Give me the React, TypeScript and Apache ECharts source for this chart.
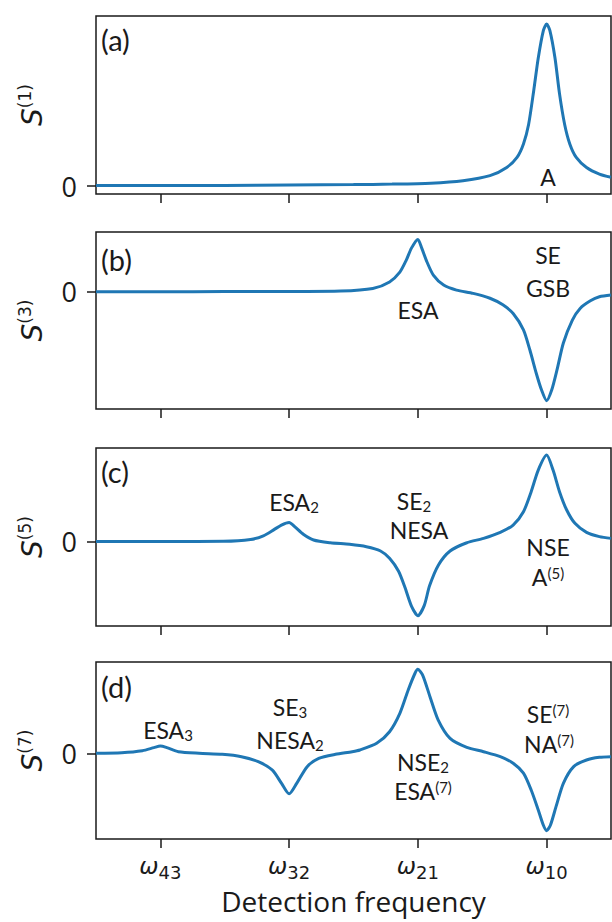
import React, { useEffect, useRef } from 'react';
import * as echarts from 'echarts';

// x positions: ω43 = 1, ω32 = 2, ω21 = 3, ω10 = 4
const tickValues = [1, 2, 3, 4];
const tickSubs = ['43', '32', '21', '10'];
const xMin = 0.5;
const xMax = 4.5;

// (a) S(1)
const xA = [0.5, 1.0, 1.5, 2.0, 2.5, 2.8, 3.1, 3.35, 3.56, 3.69, 3.77, 3.82, 3.86, 3.9, 3.935, 3.975, 4.0, 4.025, 4.065, 4.1, 4.14, 4.18, 4.23, 4.31, 4.41, 4.5];
const yA = [0.003, 0.003, 0.004, 0.006, 0.009, 0.012, 0.018, 0.033, 0.064, 0.115, 0.177, 0.26, 0.38, 0.59, 0.79, 0.96, 1.0, 0.96, 0.79, 0.57, 0.38, 0.26, 0.177, 0.115, 0.074, 0.054];

// (b) S(3)
const xB = [0.5, 1.0, 1.5, 2.0, 2.4, 2.65, 2.78, 2.86, 2.91, 2.95, 3.0, 3.03, 3.07, 3.12, 3.2, 3.3, 3.43, 3.56, 3.66, 3.74, 3.82, 3.87, 3.92, 3.96, 4.0, 4.04, 4.08, 4.13, 4.2, 4.26, 4.34, 4.41, 4.5];
const yB = [0.0, 0.0, 0.001, 0.002, 0.006, 0.03, 0.09, 0.18, 0.29, 0.4, 0.48, 0.4, 0.275, 0.153, 0.061, 0.015, -0.015, -0.06, -0.12, -0.2, -0.35, -0.535, -0.75, -0.9, -1.0, -0.9, -0.72, -0.47, -0.26, -0.153, -0.083, -0.046, -0.03];

// (c) S(5)
const xC = [0.5, 0.9, 1.23, 1.49, 1.7, 1.8, 1.88, 1.94, 2.0, 2.045, 2.11, 2.19, 2.32, 2.47, 2.6, 2.71, 2.78, 2.85, 2.9, 2.95, 3.0, 3.05, 3.09, 3.16, 3.25, 3.38, 3.51, 3.64, 3.74, 3.82, 3.88, 3.935, 4.0, 4.05, 4.1, 4.156, 4.22, 4.31, 4.41, 4.5];
const yC = [0.002, 0.002, 0.003, 0.005, 0.03, 0.08, 0.16, 0.225, 0.26, 0.2, 0.1, 0.023, -0.014, -0.036, -0.068, -0.126, -0.225, -0.4, -0.62, -0.87, -1.0, -0.86, -0.6, -0.315, -0.126, -0.014, 0.045, 0.126, 0.225, 0.405, 0.676, 0.968, 1.17, 0.968, 0.676, 0.428, 0.248, 0.126, 0.068, 0.045];

// (d) S(7)
const xD = [0.5, 0.7, 0.86, 0.95, 1.0, 1.05, 1.14, 1.3, 1.48, 1.63, 1.76, 1.87, 1.94, 2.0, 2.06, 2.14, 2.23, 2.36, 2.49, 2.55, 2.68, 2.78, 2.86, 2.925, 2.977, 3.0, 3.037, 3.094, 3.158, 3.25, 3.38, 3.51, 3.64, 3.74, 3.82, 3.88, 3.935, 3.974, 4.0, 4.03, 4.073, 4.13, 4.21, 4.31, 4.41, 4.5];
const yD = [0.009, 0.017, 0.043, 0.083, 0.104, 0.083, 0.03, 0.009, -0.004, -0.035, -0.1, -0.21, -0.38, -0.52, -0.38, -0.165, -0.057, -0.004, 0.03, 0.052, 0.139, 0.29, 0.53, 0.835, 1.05, 1.104, 1.03, 0.748, 0.443, 0.204, 0.087, 0.03, -0.035, -0.12, -0.25, -0.47, -0.73, -0.926, -1.0, -0.926, -0.687, -0.383, -0.165, -0.078, -0.043, -0.035];

const seriesX = [xA, xB, xC, xD];
const seriesY = [yA, yB, yC, yD];
const orders = ['1', '3', '5', '7'];
const panelLetters = ['(a)', '(b)', '(c)', '(d)'];
const yMins = [-0.049, -1.076, -1.139, -1.109];
const yMaxs = [1.049, 0.548, 1.266, 1.2];
const xTitle = 'Detection frequency';

// annotation texts (rich-text markup), per panel
const annotations = [
  ['{m|A}'],
  ['{m|ESA}', '{m|SE}', '{m|GSB}'],
  ['{m|ESA}{b|2}', '{m|SE}{b|2}', '{m|NESA}', '{m|NSE}', '{m|A}{p|(5)}'],
  ['{m|ESA}{b|3}', '{m|SE}{b|3}', '{m|NESA}{b|2}', '{m|NSE}{b|2}', '{m|ESA}{p|(7)}', '{m|SE}{p|(7)}', '{m|NA}{p|(7)}'],
];

// layout (pixels)
const gridLeft = 96;
const gridRight = 1;
const gridTops = [16, 232, 448, 662];
const gridHeights = [178, 177, 178, 177];
const annotationPos = [
  [[548, 177]],
  [[418, 310], [548, 255], [548, 288]],
  [[294, 502], [414, 501], [419, 530], [548, 547], [548, 577]],
  [[168, 730], [290, 707], [290, 740], [423, 762], [423, 791], [548, 714], [549, 744]],
];
const letterY = [39, 259, 471, 686];

const LINE = '#1f77b4';
const INK = '#1a1a1a';

export default function App() {
  const ref = useRef<HTMLDivElement>(null);
  useEffect(() => {
    if (!ref.current) return;
    const chart = echarts.init(ref.current, undefined, { renderer: 'svg' });

    const grids = gridTops.map((t, i) => ({
      left: gridLeft,
      right: gridRight,
      top: t,
      height: gridHeights[i],
      show: true,
      borderColor: INK,
      borderWidth: 1.5,
      backgroundColor: 'transparent',
    }));

    const xAxes = gridTops.map((_, i) => ({
      type: 'value',
      gridIndex: i,
      min: xMin,
      max: xMax,
      axisLine: { show: false, onZero: false },
      splitLine: { show: false },
      axisTick: { show: true, inside: false, length: 9, customValues: tickValues, lineStyle: { color: INK, width: 1.5 } },
      axisLabel: {
        show: i === 3,
        customValues: tickValues,
        margin: 12,
        formatter: (v: number) => {
          const k = tickValues.indexOf(Math.round(v));
          return k >= 0 ? `{w|ω}{s|${tickSubs[k]}}` : '';
        },
        rich: {
          w: { fontFamily: 'DejaVu Sans', fontStyle: 'italic', fontSize: 23, lineHeight: 30, color: INK },
          s: { fontFamily: 'DejaVu Sans', fontSize: 18, lineHeight: 18, verticalAlign: 'bottom', color: INK },
        },
      },
      name: i === 3 ? xTitle : '',
      nameLocation: 'middle',
      nameGap: 48,
      nameTextStyle: { fontFamily: 'Open Sans', fontSize: 28, lineHeight: 28, color: INK },
    }));

    const yAxes = gridTops.map((_, i) => ({
      type: 'value',
      gridIndex: i,
      min: yMins[i],
      max: yMaxs[i],
      axisLine: { show: false, onZero: false },
      splitLine: { show: false },
      axisTick: { show: true, inside: false, length: 9, customValues: [0], lineStyle: { color: INK, width: 1.5 } },
      axisLabel: {
        customValues: [0],
        margin: 19,
        fontFamily: 'Open Sans',
        fontSize: 27,
        color: INK,
        formatter: (v: number) => (Math.abs(v) < 1e-9 ? '0' : ''),
      },
      name: `{s|S}{p|(${orders[i]})}`,
      nameLocation: 'middle',
      nameGap: 48,
      nameRotate: 90,
      nameTextStyle: {
        rich: {
          s: { fontFamily: 'DejaVu Sans', fontStyle: 'italic', fontSize: 28, lineHeight: 32, color: INK },
          p: { fontFamily: 'DejaVu Sans', fontSize: 17, lineHeight: 20, verticalAlign: 'top', color: INK },
        },
      },
    }));

    const series = seriesX.map((xs, i) => ({
      type: 'line',
      xAxisIndex: i,
      yAxisIndex: i,
      data: xs.map((x, j) => [x, seriesY[i][j]]),
      showSymbol: false,
      smooth: 0.25,
      lineStyle: { color: LINE, width: 3 },
      silent: true,
    }));

    const annRich = {
      m: { fontFamily: 'Lato', fontSize: 23, lineHeight: 24, fill: INK },
      b: { fontFamily: 'Lato', fontSize: 15, lineHeight: 10, verticalAlign: 'bottom', fill: INK },
      p: { fontFamily: 'Lato', fontSize: 15, lineHeight: 18, verticalAlign: 'top', fill: INK },
    };

    const graphics: any[] = [];
    annotations.forEach((list, i) => {
      list.forEach((txt, j) => {
        const [x, y] = annotationPos[i][j];
        graphics.push({
          type: 'text',
          x,
          y,
          silent: true,
          style: { text: txt, rich: annRich, align: 'center', verticalAlign: 'middle', fill: INK },
        });
      });
    });
    panelLetters.forEach((l, i) => {
      graphics.push({
        type: 'text',
        x: 101,
        y: letterY[i],
        silent: true,
        style: { text: l, fontFamily: 'Lato', fontSize: 29, fill: INK, align: 'left', verticalAlign: 'middle' },
      });
    });

    chart.setOption({
      animation: false,
      backgroundColor: '#ffffff',
      grid: grids,
      xAxis: xAxes,
      yAxis: yAxes,
      series,
      graphic: graphics,
    });
    return () => chart.dispose();
  }, []);
  return <div ref={ref} style={{ position: 'absolute', left: 0, top: 0, width: 612, height: 922 }} />;
}
